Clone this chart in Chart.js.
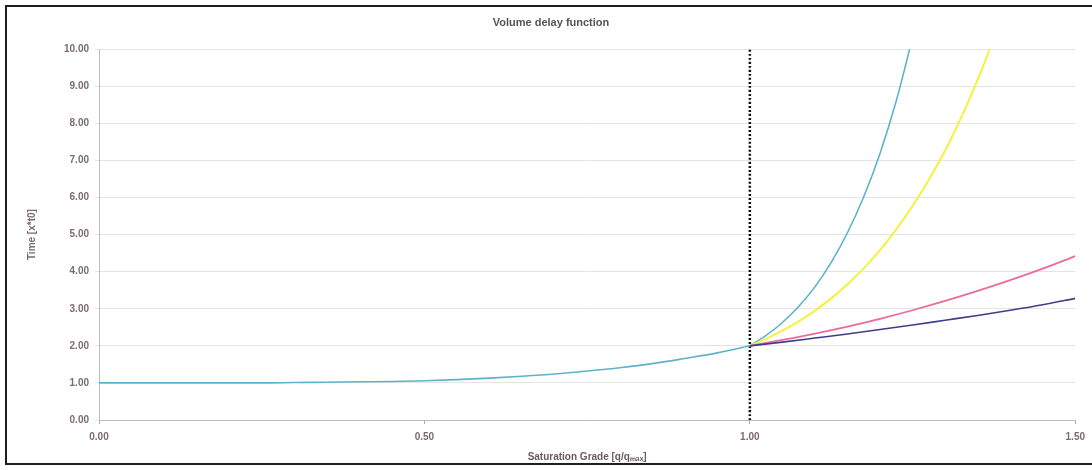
<!DOCTYPE html>
<html>
<head>
<meta charset="utf-8">
<script src="https://cdn.jsdelivr.net/npm/chart.js@4/dist/chart.umd.min.js"></script>
<style>
  html, body { margin: 0; padding: 0; background: #fff; }
  #wrap { position: relative; width: 1092px; height: 470px; overflow: hidden; }
  #frame { position: absolute; left: 5px; top: 5px; width: 1100px; height: 456px;
           border: 2.5px solid #1e1e1e; border-right: none; pointer-events: none; }
  canvas { position: absolute; left: 0; top: 0; }
</style>
</head>
<body>
<div id="wrap">
  <canvas id="vdf" width="1092" height="470"></canvas>
  <div id="frame"></div>
</div>
<script>
// values
const baseX = [0, 0.05, 0.1, 0.15, 0.2, 0.25, 0.3, 0.35, 0.4, 0.45, 0.5, 0.55, 0.6, 0.65, 0.7, 0.75, 0.8, 0.85, 0.9, 0.95, 1.0];
const baseY = [1.00, 1.00, 1.00, 1.00, 1.00, 1.00, 1.01, 1.02, 1.03, 1.04, 1.06, 1.09, 1.13, 1.18, 1.24, 1.32, 1.41, 1.52, 1.66, 1.81, 2.00];

const steepX = [1.0, 1.025, 1.05, 1.075, 1.1, 1.125, 1.15, 1.175, 1.2, 1.225, 1.25];
const steepY = [2.00, 2.28, 2.63, 3.06, 3.59, 4.25, 5.05, 6.02, 7.19, 8.61, 10.31];

const yellowX = [1.0, 1.025, 1.05, 1.075, 1.1, 1.125, 1.15, 1.175, 1.2, 1.225, 1.25, 1.275, 1.3, 1.325, 1.35, 1.375];
const yellowY = [2.00, 2.19, 2.41, 2.66, 2.95, 3.28, 3.66, 4.09, 4.58, 5.14, 5.77, 6.48, 7.27, 8.17, 9.17, 10.29];

const flatX = [1.0, 1.05, 1.1, 1.15, 1.2, 1.25, 1.3, 1.35, 1.4, 1.45, 1.5];
const pinkY = [2.00, 2.16, 2.33, 2.52, 2.73, 2.96, 3.21, 3.48, 3.77, 4.08, 4.42];
const navyY = [2.00, 2.10, 2.21, 2.32, 2.44, 2.56, 2.69, 2.82, 2.96, 3.11, 3.28];

const capacityX = 1.0;
const yTicks = [0, 1, 2, 3, 4, 5, 6, 7, 8, 9, 10];
const xTicks = [0, 0.5, 1.0, 1.5];

const pts = (xs, ys) => xs.map((x, i) => ({ x: x, y: ys[i] }));

const labelColor = '#7b6a72';
const tickFont = { family: 'Liberation Sans', size: 10, weight: 'bold' };

new Chart(document.getElementById('vdf'), {
  type: 'line',
  data: {
    datasets: [
      { data: pts(baseX, baseY), borderColor: '#5db3c9', borderWidth: 1.6 },
      { data: pts(flatX, navyY), borderColor: '#3d3f8c', borderWidth: 1.6 },
      { data: pts(flatX, pinkY), borderColor: '#ee6a9e', borderWidth: 1.8 },
      { data: pts(yellowX, yellowY), borderColor: '#f4f23c', borderWidth: 2 },
      { data: pts(steepX, steepY), borderColor: '#5db3c9', borderWidth: 1.6 },
      { data: [{ x: capacityX, y: yTicks[0] }, { x: capacityX, y: yTicks[yTicks.length - 1] }],
        borderColor: '#111', borderWidth: 2.5, borderDash: [2, 2], clip: false }
    ]
  },
  options: {
    responsive: false,
    animation: false,
    layout: { padding: { left: 26, right: 16, top: 6, bottom: 7 } },
    elements: { point: { radius: 0 }, line: { tension: 0.3, cubicInterpolationMode: 'monotone' } },
    plugins: {
      legend: { display: false },
      tooltip: { enabled: false },
      title: {
        display: true,
        text: 'Volume delay function',
        color: '#555',
        font: { family: 'Liberation Sans', size: 11, weight: 'bold' },
        padding: { top: 10, bottom: 20 }
      }
    },
    scales: {
      x: {
        type: 'linear',
        min: 0,
        max: 1.5,
        afterBuildTicks: s => { s.ticks = xTicks.map(v => ({ value: v })); },
        ticks: { color: labelColor, font: tickFont, padding: 7, callback: v => v.toFixed(2) },
        grid: { display: true, drawOnChartArea: false, tickLength: 4, color: '#aaa' },
        border: { color: '#bbb' },
        title: { display: true, text: 'Saturation Grade [q/qₘₐₓ]', color: '#6b5a62',
                 font: { family: 'Liberation Sans', size: 10, weight: 'bold' }, padding: { top: 1, bottom: 0 } }
      },
      y: {
        min: 0,
        max: 10,
        afterBuildTicks: s => { s.ticks = yTicks.map(v => ({ value: v })); },
        ticks: { color: labelColor, font: tickFont, padding: 6, callback: v => v.toFixed(2) },
        grid: { color: '#e4e4e4', tickLength: 4 },
        border: { color: '#bbb' },
        afterFit: s => { s.width = 73; },
        title: { display: true, text: 'Time [x*t0]', color: '#7b6a72',
                 font: { family: 'Liberation Sans', size: 10, weight: 'bold' }, padding: 0 }
      }
    }
  }
});
</script>
</body>
</html>
